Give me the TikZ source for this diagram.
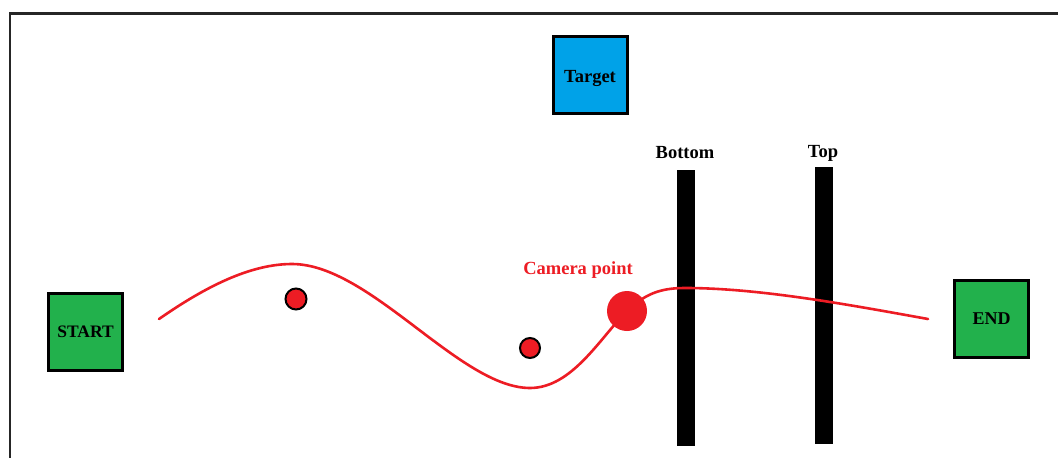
\documentclass[tikz,border=0pt]{standalone}
\usepackage{fontspec}
\setmainfont{Liberation Serif}
\definecolor{boxgreen}{HTML}{22B14C}
\definecolor{boxblue}{HTML}{00A2E8}
\definecolor{pathred}{HTML}{ED1C24}
\begin{document}
\begin{tikzpicture}[x=1pt,y=-1pt,
  squarebox/.style={draw=black,line width=3pt,minimum width=74pt,minimum height=77pt,
    inner sep=0pt,font=\fontsize{18}{20}\selectfont\bfseries,text=black},
  barpost/.style={fill=black,draw=none,minimum width=18pt,inner sep=0pt},
  postlabel/.style={font=\fontsize{18.5}{20}\selectfont\bfseries,text=black,inner sep=0pt},
  waypoint/.style={circle,draw=black,line width=2pt,fill=pathred,minimum size=21pt,inner sep=0pt},
  trajectory/.style={draw=pathred,line width=2.6pt,line cap=round}]
\useasboundingbox (0,0) rectangle (1058,458);
\fill[white] (0,0) rectangle (1058,458);
% frame
\draw[line width=2.2pt,black!85] (10,458) -- (10,13.5) -- (1058,13.5);
% boxes
\node[squarebox,fill=boxgreen,font=\fontsize{17.5}{20}\selectfont\bfseries] (start) at (85.5,332) {START};
\node[squarebox,fill=boxblue] (target) at (590,75) {};
\node[postlabel] (targetlbl) at ([yshift=-3pt]target.center) {Target};
\node[squarebox,fill=boxgreen] (end) at (991.5,319) {END};
% posts
\node[barpost,minimum height=276pt] (bottombar) at (686,308) {};
\node[barpost,minimum height=277pt] (topbar) at (824,305.5) {};
\node[postlabel] (bottomlbl) at (685,153) {Bottom};
\node[postlabel] (toplbl) at (823,153) {Top};
% trajectory
\coordinate (p0) at (159,319);
\coordinate (p1) at (292,264);
\coordinate (p2) at (530,388);
\coordinate (p3) at (627,311);
\coordinate (p4) at (685,288);
\coordinate (p5) at (928,319);
\draw[trajectory] (p0) .. controls (205,287) and (250,264) .. (p1)
  .. controls (370,264) and (460,388) .. (p2)
  .. controls (572,388) and (600,338) .. (p3)
  .. controls (645,294) and (660,288) .. (p4)
  .. controls (760,288) and (850,305) .. (p5);
% points
\node[waypoint] (wp1) at (296,299) {};
\node[waypoint,minimum size=20pt] (wp2) at (530,348) {};
\node[circle,fill=pathred,minimum size=40pt,inner sep=0pt] (camera) at (627,311) {};
\node[font=\fontsize{18.5}{20}\selectfont\bfseries,text=pathred,inner sep=0pt] (cameralbl) at (578,270) {Camera point};
\end{tikzpicture}
\end{document}
